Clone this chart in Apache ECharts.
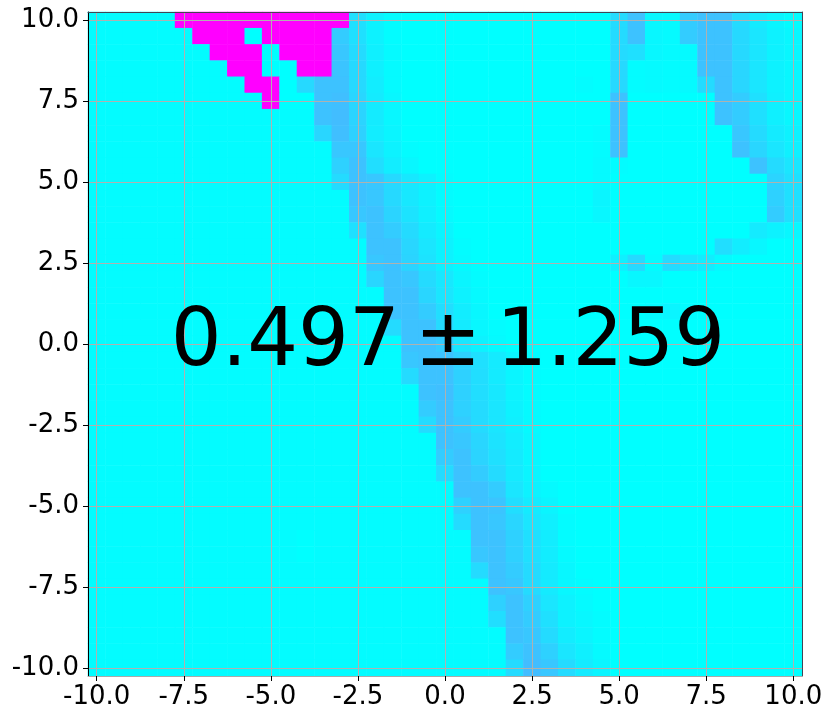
<!DOCTYPE html>
<html>
<head>
<meta charset="utf-8">
<style>
  html, body { margin: 0; padding: 0; background: #fff; }
  #chart { width: 831px; height: 720px; }
</style>
<script src="https://cdn.jsdelivr.net/npm/echarts@6/dist/echarts.min.js"></script>
</head>
<body>
<div id="chart"></div>
<script>
// axis categories, one per cell, step 0.5
const xCats = ['-10.0','-9.5','-9.0','-8.5','-8.0','-7.5','-7.0','-6.5','-6.0','-5.5','-5.0','-4.5','-4.0','-3.5','-3.0','-2.5','-2.0','-1.5','-1.0','-0.5','0.0','0.5','1.0','1.5','2.0','2.5','3.0','3.5','4.0','4.5','5.0','5.5','6.0','6.5','7.0','7.5','8.0','8.5','9.0','9.5','10.0']
const yCats = xCats.slice()

// cell values, in percent of the colour range.
// first row is y = 10.0, last row is y = -10.0
const rows = [
  [1,1,1,1,1,100,100,100,100,100, 100,100,100,100,100,12,5,1,0,0, 0,0,0,0,0,0,0,0,0,0, 14,24,3,2,20,24,24,14,8,4, 1],
  [1,1,1,1,1,1,100,100,100,0, 100,100,100,100,20,12,5,1,0,0, 0,0,0,0,0,0,0,0,0,0, 14,24,3,2,20,24,24,15,10,5, 3],
  [1,1,1,1,1,1,1,100,100,100, 0,100,100,100,22,14,6,2,0,0, 0,0,0,0,0,0,0,0,0,0, 14,12,3,2,2,24,24,15,10,5, 3],
  [1,1,1,1,1,1,1,1,100,100, 0,0,100,100,23,15,6,2,0,0, 0,0,0,0,0,0,0,0,0,0, 15,1,2,1,2,24,24,16,10,5, 3],
  [1,1,1,1,1,1,1,1,1,100, 100,0,15,24,24,15,7,2,0,0, 0,0,0,0,0,0,0,0,1,0, 15,1,2,1,2,14,24,16,10,5, 3],
  [1,1,1,1,1,1,1,1,1,1, 100,0,0,24,25,16,8,3,0,0, 0,0,0,0,0,0,0,0,0,0, 24,0,0,0,0,0,24,20,12,6, 3],
  [1,1,1,1,1,1,1,1,1,1, 1,1,1,24,26,17,8,3,0,0, 0,0,0,0,0,0,0,0,0,0, 24,0,0,0,0,0,24,20,12,6, 3],
  [1,1,1,1,1,1,1,1,1,1, 1,1,1,16,25,18,7,4,0,0, 0,0,0,0,0,0,0,0,0,1, 24,0,0,0,0,0,0,22,14,8, 5],
  [1,1,1,1,1,1,1,1,1,1, 1,1,1,1,22,22,10,5,1,0, 0,0,0,0,0,0,0,0,0,1, 24,0,0,0,0,0,0,24,16,10, 6],
  [1,1,1,1,1,1,1,1,1,1, 1,1,1,1,18,24,13,7,3,0, 0,0,0,0,0,0,0,0,0,2, 1,0,0,0,0,0,0,0,24,14, 10],
  [1,1,1,1,1,1,1,1,1,1, 1,1,1,1,14,24,22,15,9,5, 1,0,0,0,0,0,0,0,0,2, 0,0,0,0,0,0,0,0,0,17, 12],
  [1,1,1,1,1,1,1,1,1,1, 1,1,1,1,1,24,22,15,9,5, 1,0,0,0,0,0,0,0,0,4, 0,0,0,0,0,0,0,0,0,18, 12],
  [1,1,1,1,1,1,1,1,1,1, 1,1,1,1,1,22,24,17,11,6, 2,0,0,0,0,0,0,0,0,3, 0,0,0,0,0,0,0,0,0,20, 12],
  [1,1,1,1,1,1,1,1,1,1, 1,1,1,1,1,12,24,20,14,8, 4,0,0,0,0,0,0,0,0,0, 0,0,0,0,0,0,0,0,8,5, 3],
  [1,1,1,1,1,1,1,1,1,1, 1,1,1,1,1,1,24,24,16,10, 5,1,0,0,0,0,0,0,0,0, 0,0,0,0,0,0,13,7,3,0, 0],
  [1,1,1,1,1,1,1,1,1,1, 1,1,1,1,1,1,22,24,17,11, 5,2,0,0,0,0,0,0,0,0, 6,15,1,14,10,7,2,0,0,0, 0],
  [1,1,1,1,1,1,1,1,1,1, 1,1,1,1,1,1,16,24,22,14, 9,4,1,0,0,0,0,0,0,0, 0,3,3,0,0,0,0,0,0,0, 0],
  [1,1,1,1,1,1,1,1,1,1, 1,1,1,1,1,1,1,24,24,16, 10,5,2,0,0,0,0,0,0,0, 0,0,0,0,0,0,0,0,0,0, 0],
  [1,1,1,1,1,1,1,1,1,1, 1,1,1,1,1,1,1,24,24,20, 13,7,3,0,0,0,0,0,0,0, 0,0,2,4,1,0,0,0,0,0, 0],
  [1,1,1,1,1,1,1,1,1,1, 1,1,1,1,1,1,1,14,24,24, 14,8,3,1,0,0,0,0,0,0, 0,0,0,0,0,0,0,0,0,0, 0],
  [1,1,1,1,1,1,1,1,1,1, 1,1,1,1,1,1,1,1,24,24, 20,10,5,2,0,0,0,0,0,0, 0,0,0,0,0,0,0,0,0,0, 0],
  [1,1,1,1,1,1,1,1,1,1, 1,1,1,1,1,1,1,1,22,24, 24,18,12,8,4,1,0,0,0,0, 0,0,0,0,0,0,0,0,0,0, 0],
  [1,1,1,1,1,1,1,1,1,1, 1,1,1,1,1,1,1,1,14,24, 24,18,13,8,4,1,0,0,0,0, 0,0,0,0,0,0,0,0,0,0, 0],
  [1,1,1,1,1,1,1,1,1,1, 1,1,1,1,1,1,1,1,1,24, 25,18,13,9,4,1,0,0,0,0, 0,0,0,0,0,0,0,0,0,0, 0],
  [1,1,1,1,1,1,1,1,1,1, 1,1,1,1,1,1,1,1,1,20, 24,18,14,10,5,2,0,0,0,0, 0,0,0,0,0,0,0,0,0,0, 0],
  [1,1,1,1,1,1,1,1,1,1, 1,1,1,1,1,1,1,1,1,14, 24,20,14,10,6,2,0,0,0,0, 0,0,0,0,0,0,0,0,0,0, 0],
  [1,1,1,1,1,1,1,1,1,1, 1,1,1,1,1,1,1,1,1,1, 24,22,16,11,7,3,0,0,0,0, 0,0,0,0,0,0,0,0,0,0, 0],
  [1,1,1,1,1,1,1,1,1,1, 1,1,1,1,1,1,1,1,1,1, 20,24,17,12,8,3,0,0,0,0, 0,0,0,0,0,0,0,0,0,0, 0],
  [1,1,1,1,1,1,1,1,1,1, 1,1,1,1,1,1,1,1,1,1, 14,24,20,14,8,4,0,0,0,0, 0,0,0,0,0,0,0,0,0,0, 0],
  [1,1,1,1,1,1,1,1,1,1, 1,1,1,1,1,1,1,1,1,1, 1,24,24,20,10,5,2,0,0,0, 0,0,0,0,0,0,0,0,0,0, 0],
  [1,1,1,1,1,1,1,1,1,1, 1,1,1,1,1,1,1,1,1,1, 1,18,24,23,13,8,4,0,0,0, 0,0,0,0,0,0,0,0,0,0, 0],
  [1,1,1,1,1,1,1,1,1,1, 1,1,1,1,1,1,1,1,1,1, 1,14,24,22,16,10,6,1,0,0, 0,0,0,0,0,0,0,0,0,0, 0],
  [1,1,1,1,1,1,1,1,1,1, 1,1,0,1,1,1,1,1,1,1, 1,1,24,24,18,12,7,1,0,0, 0,0,0,0,0,0,0,0,0,0, 0],
  [1,1,1,1,1,1,1,1,1,1, 1,1,0,1,1,1,1,1,1,1, 1,1,22,24,18,12,7,2,0,0, 0,0,0,0,0,0,0,0,0,0, 0],
  [1,1,1,1,1,1,1,1,1,1, 1,1,1,1,1,1,1,1,1,1, 1,1,14,24,20,14,8,3,0,0, 0,0,0,0,0,0,0,0,0,0, 0],
  [1,1,1,1,1,1,1,1,1,1, 1,1,1,1,1,1,1,1,1,1, 1,1,1,24,22,14,8,3,1,0, 0,0,0,0,0,0,0,0,0,0, 0],
  [1,1,1,1,1,1,1,1,1,1, 1,1,1,1,1,1,1,1,1,1, 1,1,1,18,24,18,10,5,2,0, 0,0,0,0,0,0,0,0,0,0, 0],
  [1,1,1,1,1,1,1,1,1,1, 1,1,1,1,1,1,1,1,1,1, 1,1,1,13,24,20,12,5,3,1, 0,0,0,0,0,0,0,0,0,0, 0],
  [1,1,1,1,1,1,1,1,1,1, 1,1,1,1,1,1,1,1,1,1, 1,1,1,1,24,22,14,7,4,1, 0,0,0,0,0,0,0,0,0,0, 0],
  [1,1,1,1,1,1,1,1,1,1, 1,1,1,1,1,1,1,1,1,1, 1,1,1,1,20,24,18,10,6,2, 0,0,0,0,0,0,0,0,0,0, 0],
  [1,1,1,1,1,1,1,1,1,1, 1,1,1,1,1,1,1,1,1,1, 1,1,1,1,14,26,22,14,8,4, 0,0,0,0,0,0,0,0,0,0, 0]
]

const coolColors = ['#00ffff', '#ff00ff']
const annotation = ['0.497', '±', '1.259']

// rows run top to bottom, the y axis counts from the bottom
const cells = []
rows.forEach((row, r) => {
  row.forEach((v, c) => {
    cells.push([c, rows.length - 1 - r, v])
  })
})

const tickFont = { color: '#000', fontFamily: 'DejaVu Sans', fontSize: 26 }
const gridLine = { show: true, interval: 4, alignWithLabel: true, lineStyle: { color: '#b0b0b0', width: 1 } }
const edgeAxis = {
  type: 'category',
  axisLine: { show: true, lineStyle: { color: '#445', width: 1 } },
  axisTick: { show: false },
  axisLabel: { show: false },
  splitLine: { show: false }
}

var myChart = echarts.init(document.getElementById('chart'), null, { renderer: 'canvas' })
myChart.setOption({
  animation: false,
  grid: { left: 88, right: 29, top: 12, bottom: 44, containLabel: false },
  xAxis: [
    {
      type: 'category',
      data: xCats,
      z: 5,
      position: 'bottom',
      boundaryGap: true,
      axisLine: { show: true, lineStyle: { color: '#aaa', width: 1 } },
      axisTick: { show: true, interval: 4, alignWithLabel: true, length: 5, lineStyle: { color: '#000' } },
      axisLabel: { ...tickFont, interval: 4, margin: 8 },
      splitLine: gridLine
    },
    { ...edgeAxis, data: xCats, position: 'top', z: 5 }
  ],
  yAxis: [
    {
      type: 'category',
      data: yCats,
      z: 5,
      position: 'left',
      boundaryGap: true,
      axisLine: { show: true, lineStyle: { color: '#000', width: 1 } },
      axisTick: { show: true, interval: 4, alignWithLabel: true, length: 5, lineStyle: { color: '#000' } },
      axisLabel: { ...tickFont, interval: 4, margin: 9 },
      splitLine: gridLine
    },
    { ...edgeAxis, data: yCats, position: 'right', z: 5 }
  ],
  visualMap: {
    show: false,
    min: 0,
    max: 100,
    seriesIndex: 0,
    inRange: { color: coolColors }
  },
  series: [
    {
      type: 'heatmap',
      data: cells,
      emphasis: { disabled: true },
      progressive: 0,
      animation: false
    }
  ],
  graphic: [
    {
      type: 'text',
      x: 448,
      y: 344,
      z: 100,
      silent: true,
      style: {
        text: '{n|' + annotation[0] + '}{s| }{n|' + annotation[1] + '}{s| }{n|' + annotation[2] + '}',
        align: 'center',
        verticalAlign: 'middle',
        rich: {
          n: { fontFamily: 'DejaVu Sans', fontSize: 80, fill: '#000', color: '#000' },
          s: { fontFamily: 'DejaVu Sans', fontSize: 46, fill: '#000', color: '#000' }
        }
      }
    }
  ]
})
</script>
</body>
</html>
